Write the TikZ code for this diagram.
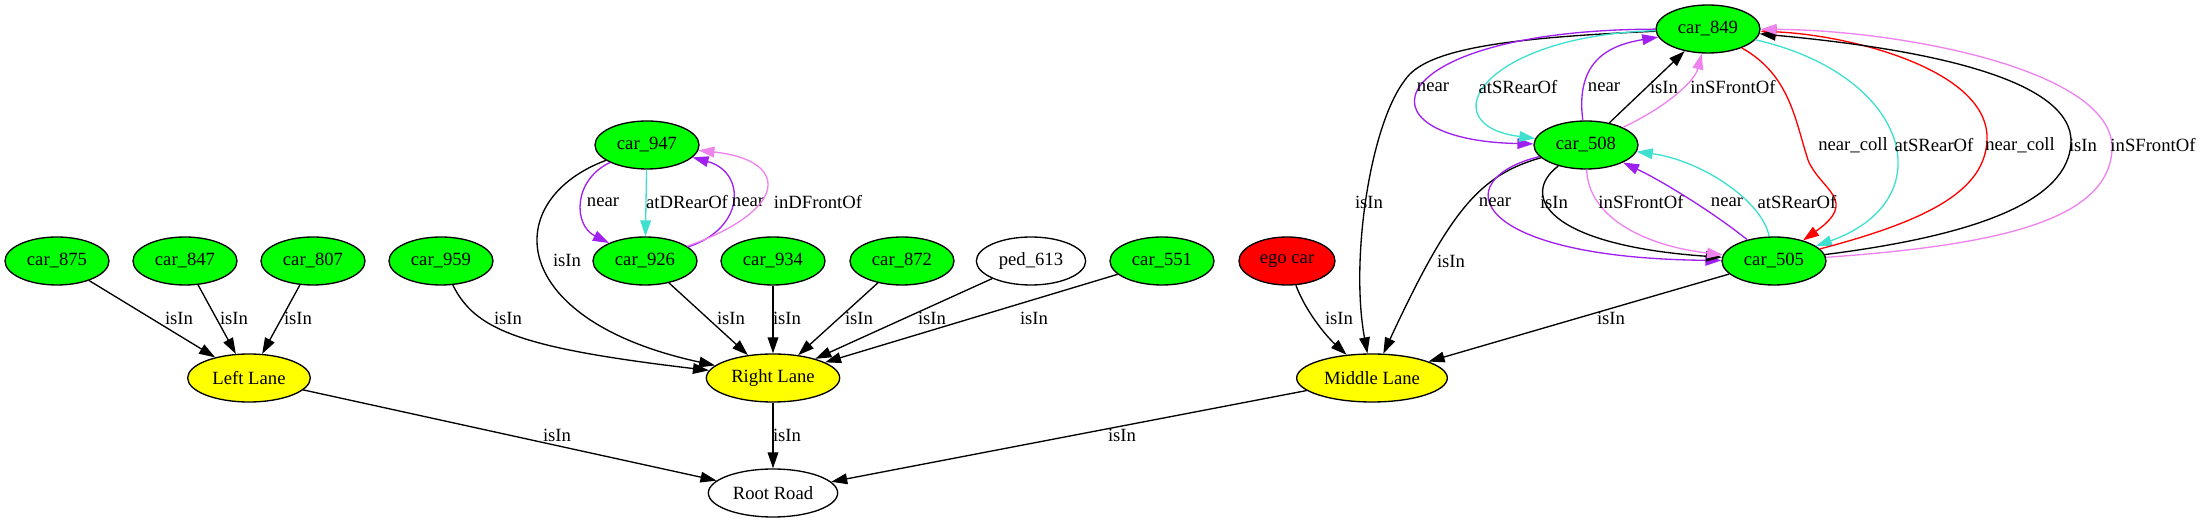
\documentclass[tikz,border=0pt]{standalone}
\usepackage{fontspec}
\setmainfont{Liberation Serif}
\usetikzlibrary{arrows.meta,shapes.geometric}
\definecolor{gvgreen}{RGB}{0,255,0}
\definecolor{gvyellow}{RGB}{255,255,0}
\definecolor{gvred}{RGB}{255,0,0}
\definecolor{gvpurple}{RGB}{160,32,240}
\definecolor{gvturq}{RGB}{64,224,208}
\definecolor{gvviolet}{RGB}{238,130,238}
\tikzset{
  every node/.style={font=\fontsize{14}{16}\selectfont},
  obj/.style={ellipse, draw, line width=1pt, inner sep=0pt, minimum width=78pt, minimum height=36pt},
  car/.style={obj, fill=gvgreen},
  lane/.style={obj, fill=gvyellow},
  conn/.style={-{Triangle[length=12pt,width=8pt]}, line width=1pt},
  lbl/.style={inner sep=0pt},
}

\begin{document}
\begin{tikzpicture}[x=0.75pt, y=-0.75pt]
  \useasboundingbox (0,0) rectangle (2200,523);
  % nodes
  \node[car] (car875) at (57,261) {car\_875};
  \node[car] (car847) at (185,261) {car\_847};
  \node[car] (car807) at (313,261) {car\_807};
  \node[car] (car959) at (441,261) {car\_959};
  \node[car] (car947) at (647,145) {car\_947};
  \node[car] (car926) at (645,261) {car\_926};
  \node[car] (car934) at (773,261) {car\_934};
  \node[car] (car872) at (902,261) {car\_872};
  \node[obj, minimum width=82pt] (ped613) at (1031,261) {ped\_613};
  \node[car] (car551) at (1162,261) {car\_551};
  \node[obj, fill=gvred, minimum width=72pt] (ego) at (1287,261) {ego car};
  \node[car] (car849) at (1708,29) {car\_849};
  \node[car] (car508) at (1586,145) {car\_508};
  \node[car] (car505) at (1774,261) {car\_505};
  \node[lane, minimum width=92pt] (left) at (249,378) {Left Lane};
  \node[lane, minimum width=100pt] (right) at (773,378) {Right Lane};
  \node[lane, minimum width=113pt] (middle) at (1372,378) {Middle Lane};
  \node[obj, minimum width=97pt] (root) at (773,493) {Root Road};

  % left lane
  \draw[conn] (car875) -- (left) node[lbl, at={(179,318)}] {isIn};
  \draw[conn] (car847) -- (left) node[lbl, at={(234,318)}] {isIn};
  \draw[conn] (car807) -- (left) node[lbl, at={(298,318)}] {isIn};
  \draw[conn] (left) -- (root) node[lbl, at={(557,435)}] {isIn};

  % right lane
  \draw[conn] (car959) .. controls (475,330) and (520,348) .. (right) node[lbl, at={(508,318)}] {isIn};
  \draw[conn] (car947) .. controls (500,200) and (505,320) .. (right) node[lbl, at={(567,260)}] {isIn};
  \draw[conn, draw=gvpurple] (car947) .. controls (573,180) and (573,225) .. (car926) node[lbl, at={(603,202)}] {near};
  \draw[conn, draw=gvturq] (car947) -- (car926) node[lbl, at={(687,202)}] {atDRearOf};
  \draw[conn, draw=gvpurple] (car926) .. controls (746,228) and (746,172) .. (car947) node[lbl, at={(748,202)}] {near};
  \draw[conn, draw=gvviolet] (car926) .. controls (790,210) and (790,160) .. (car947) node[lbl, at={(818,202)}] {inDFrontOf};
  \draw[conn] (car926) -- (right) node[lbl, at={(731,318)}] {isIn};
  \draw[conn] (car934) -- (right) node[lbl, at={(787,318)}] {isIn};
  \draw[conn] (car872) -- (right) node[lbl, at={(859,318)}] {isIn};
  \draw[conn] (ped613) -- (right) node[lbl, at={(932,318)}] {isIn};
  \draw[conn] (car551) -- (right) node[lbl, at={(1034,318)}] {isIn};
  \draw[conn] (right) -- (root) node[lbl, at={(787,435)}] {isIn};

  % middle lane
  \draw[conn] (ego) .. controls (1305,310) and (1325,335) .. (middle) node[lbl, at={(1339,318)}] {isIn};
  \draw[conn] (car849) .. controls (1500,38) and (1425,50) .. (1405,80)
    .. controls (1370,125) and (1350,260) .. (middle) node[lbl, at={(1369,202)}] {isIn};
  \draw[conn] (car508) .. controls (1480,175) and (1450,210) .. (middle) node[lbl, at={(1451,261)}] {isIn};
  \draw[conn] (car505) -- (middle) node[lbl, at={(1611,318)}] {isIn};
  \draw[conn] (middle) -- (root) node[lbl, at={(1122,435)}] {isIn};

  % car_849 and car_508
  \draw[conn, draw=gvpurple] (car849) .. controls (1380,30) and (1350,140) .. (car508) node[lbl, at={(1433,87)}] {near};
  \draw[conn, draw=gvturq] (car849) .. controls (1480,36) and (1430,125) .. (car508) node[lbl, at={(1518,87)}] {atSRearOf};
  \draw[conn, draw=gvpurple] (car508) .. controls (1575,60) and (1610,45) .. (car849) node[lbl, at={(1604,87)}] {near};
  \draw[conn] (car508) -- (car849) node[lbl, at={(1664,87)}] {isIn};
  \draw[conn, draw=gvviolet] (car508) .. controls (1670,105) and (1695,80) .. (car849) node[lbl, at={(1733,87)}] {inSFrontOf};

  % car_849 and car_505
  \draw[conn, draw=gvred] (car849) .. controls (1790,75) and (1795,120) .. (1808,160)
    .. controls (1820,190) and (1860,200) .. (car505) node[lbl, at={(1853,145)}] {near\_coll};
  \draw[conn, draw=gvturq] (car849) .. controls (1910,75) and (1945,200) .. (car505) node[lbl, at={(1934,145)}] {atSRearOf};
  \draw[conn, draw=gvred] (car505) .. controls (1930,220) and (1985,190) .. (1987,140)
    .. controls (1990,70) and (1850,35) .. (car849) node[lbl, at={(2020,145)}] {near\_coll};
  \draw[conn] (car505) .. controls (1980,235) and (2068,200) .. (2071,143)
    .. controls (2074,70) and (1880,45) .. (car849) node[lbl, at={(2083,145)}] {isIn};
  \draw[conn, draw=gvviolet] (car505) .. controls (2000,245) and (2108,220) .. (2112,150)
    .. controls (2116,70) and (1900,30) .. (car849) node[lbl, at={(2153,145)}] {inSFrontOf};

  % car_508 and car_505
  \draw[conn, draw=gvpurple] (car508) .. controls (1445,180) and (1470,258) .. (car505) node[lbl, at={(1495,202)}] {near};
  \draw[conn] (car508) .. controls (1520,195) and (1545,245) .. (car505) node[lbl, at={(1554,202)}] {isIn};
  \draw[conn, draw=gvviolet] (car508) .. controls (1588,215) and (1640,245) .. (car505) node[lbl, at={(1641,202)}] {inSFrontOf};
  \draw[conn, draw=gvpurple] (car505) .. controls (1710,210) and (1660,180) .. (car508) node[lbl, at={(1727,202)}] {near};
  \draw[conn, draw=gvturq] (car505) .. controls (1762,200) and (1700,160) .. (car508) node[lbl, at={(1797,202)}] {atSRearOf};
\end{tikzpicture}
\end{document}
